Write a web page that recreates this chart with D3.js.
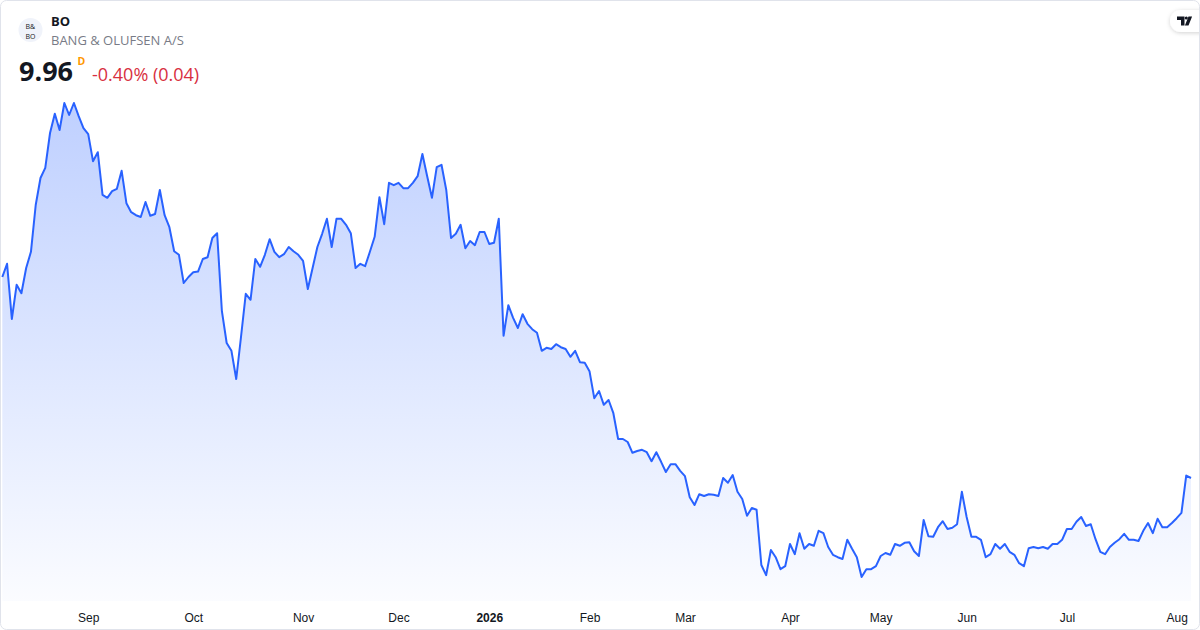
<!DOCTYPE html>
<html lang="en">
<head>
<meta charset="UTF-8">
<title>BO - Bang & Olufsen</title>
<script src="https://d3js.org/d3.v7.min.js"></script>
<style>
  html, body { margin: 0; padding: 0; background: #fff; }
  svg { display: block; font-family: "Open Sans", "Noto Sans", sans-serif; }
  .tick text { font-size: 12px; fill: #131722; }
</style>
</head>
<body>
<svg id="chart" width="1200" height="630"></svg>
<script>
// daily closes, Aug 2025 -> Aug 2026
var closes = [
  13.31, 13.53, 12.61, 13.18, 13.04, 13.46, 13.73, 14.51, 14.96, 15.13,
  15.71, 16.03, 15.76, 16.21, 16.01, 16.21, 15.99, 15.79, 15.69, 15.24,
  15.39, 14.68, 14.63, 14.74, 14.78, 15.08, 14.54, 14.39, 14.34, 14.31,
  14.56, 14.33, 14.36, 14.76, 14.34, 14.14, 13.74, 13.68, 13.21, 13.31,
  13.39, 13.40, 13.61, 13.64, 13.96, 14.04, 12.74, 12.21, 12.08, 11.61,
  12.31, 13.03, 12.93, 13.61, 13.48, 13.68, 13.94, 13.73, 13.64, 13.69,
  13.81, 13.74, 13.68, 13.58, 13.11, 13.46, 13.81, 14.03, 14.28, 13.81,
  14.28, 14.28, 14.18, 14.04, 13.46, 13.53, 13.49, 13.73, 13.98, 14.64,
  14.19, 14.88, 14.84, 14.88, 14.79, 14.79, 14.88, 14.99, 15.36, 14.99,
  14.63, 15.14, 15.18, 14.76, 13.96, 14.03, 14.18, 13.79, 13.91, 13.84,
  14.06, 14.06, 13.86, 13.88, 14.28, 12.33, 12.84, 12.63, 12.46, 12.69,
  12.53, 12.44, 12.38, 12.08, 12.13, 12.11, 12.19, 12.14, 12.11, 11.98,
  12.08, 11.89, 11.88, 11.74, 11.29, 11.41, 11.18, 11.26, 11.04, 10.61,
  10.61, 10.56, 10.38, 10.41, 10.43, 10.39, 10.24, 10.39, 10.23, 10.06,
  10.19, 10.19, 10.08, 9.99, 9.64, 9.51, 9.69, 9.66, 9.69, 9.68,
  9.66, 9.96, 9.88, 10.01, 9.73, 9.61, 9.33, 9.46, 9.43, 8.51,
  8.34, 8.76, 8.64, 8.44, 8.49, 8.86, 8.69, 9.04, 8.78, 8.86,
  8.83, 9.08, 9.04, 8.81, 8.68, 8.64, 8.61, 8.93, 8.78, 8.64,
  8.31, 8.44, 8.44, 8.49, 8.66, 8.71, 8.68, 8.86, 8.83, 8.88,
  8.89, 8.74, 8.66, 9.26, 8.99, 8.98, 9.14, 9.24, 9.11, 9.13,
  9.19, 9.73, 9.31, 8.98, 8.98, 8.93, 8.64, 8.69, 8.86, 8.78,
  8.86, 8.73, 8.68, 8.54, 8.49, 8.79, 8.81, 8.79, 8.81, 8.78,
  8.86, 8.86, 8.93, 9.11, 9.11, 9.23, 9.31, 9.16, 9.19, 8.94,
  8.73, 8.69, 8.81, 8.88, 8.94, 9.03, 8.93, 8.93, 8.91, 9.08,
  9.21, 9.04, 9.28, 9.14, 9.14, 9.21, 9.29, 9.38, 10.00, 9.96
];

// first trading day of each month (bar index) and its label
var tickIdx = [18, 40, 63, 83, 102, 123, 143, 165, 184, 202, 223, 246];
var tickLabels = ["Sep", "Oct", "Nov", "Dec", "2026", "Feb", "Mar", "Apr", "May", "Jun", "Jul", "Aug"];

var symbol = "BO";
var company = "BANG & OLUFSEN A/S";
var lastPrice = "9.96";
var changeText = "-0.40% (0.04)";

var svg = d3.select("#chart"),
    width = +svg.attr("width"),
    height = +svg.attr("height");

var plotBottom = 601;

var x = d3.scaleLinear()
  .domain([0, closes.length - 1])
  .range([2.3, 1191]);

var y = d3.scaleLinear()
  .domain([8, 16.5])
  .range([595.6, 85.6]);

var defs = svg.append("defs");

var grad = defs.append("linearGradient")
  .attr("id", "fillGrad")
  .attr("gradientUnits", "userSpaceOnUse")
  .attr("x1", 0).attr("x2", 0)
  .attr("y1", y(d3.max(closes))).attr("y2", plotBottom);
grad.append("stop").attr("offset", "0%").attr("stop-color", "#2962ff").attr("stop-opacity", 0.3);
grad.append("stop").attr("offset", "100%").attr("stop-color", "#2962ff").attr("stop-opacity", 0.02);

var shadow = defs.append("filter")
  .attr("id", "pillShadow")
  .attr("x", "-50%").attr("y", "-50%").attr("width", "200%").attr("height", "200%");
shadow.append("feDropShadow")
  .attr("dx", 0).attr("dy", 1).attr("stdDeviation", 2)
  .attr("flood-color", "#000").attr("flood-opacity", 0.18);

// area + line
var area = d3.area()
  .x(function(d, i) { return x(i); })
  .y0(plotBottom)
  .y1(function(d) { return y(d); });

var line = d3.line()
  .x(function(d, i) { return x(i); })
  .y(function(d) { return y(d); });

svg.append("path")
  .datum(closes)
  .attr("fill", "url(#fillGrad)")
  .attr("d", area);

svg.append("path")
  .datum(closes)
  .attr("fill", "none")
  .attr("stroke", "#2962ff")
  .attr("stroke-width", 2)
  .attr("stroke-linejoin", "round")
  .attr("d", line);

// month axis
var xAxis = d3.axisBottom(x)
  .tickValues(tickIdx)
  .tickSize(0)
  .tickPadding(0)
  .tickFormat(function(d, i) { return tickLabels[i]; });

var axisG = svg.append("g")
  .attr("transform", "translate(0,613)")
  .call(xAxis);
axisG.select(".domain").remove();
axisG.selectAll(".tick text")
  .attr("dy", "0.71em")
  .style("font-weight", function(d, i) { return tickLabels[i] === "2026" ? "bold" : null; });

// header
var logo = svg.append("g").attr("transform", "translate(30.5,30)");
logo.append("circle").attr("r", 12).attr("fill", "#f0f3fa");
// B&O mark, two small lines kept apart so their boxes don't touch
logo.append("text")
  .attr("x", -5).attr("y", -1.2)
  .style("font-size", "7px").style("fill", "#131722")
  .text("B&");
logo.append("text")
  .attr("x", -5).attr("y", 8.6)
  .style("font-size", "7px").style("fill", "#131722")
  .text("BO");

svg.append("text")
  .attr("x", 51).attr("y", 26)
  .style("font-size", "13px").style("font-weight", "bold").style("fill", "#131722")
  .text(symbol);

svg.append("text")
  .attr("x", 51).attr("y", 45)
  .style("font-size", "13px").style("fill", "#787b86")
  .text(company);

svg.append("text")
  .attr("x", 19).attr("y", 81)
  .style("font-size", "27px").style("font-weight", "bold").style("fill", "#131722")
  .text(lastPrice);

svg.append("text")
  .attr("x", 77.5).attr("y", 65)
  .style("font-size", "10.5px").style("font-weight", "bold").style("fill", "#ff9800")
  .text("D");

svg.append("text")
  .attr("x", 92).attr("y", 81)
  .style("font-size", "18px").style("fill", "#d8303f")
  .text(changeText);

// TradingView badge, top right
var badge = svg.append("g");
badge.append("rect")
  .attr("x", 1170).attr("y", 10).attr("width", 44).attr("height", 22).attr("rx", 11)
  .attr("fill", "#fff")
  .attr("filter", "url(#pillShadow)");
badge.append("path")
  .attr("fill", "#131722")
  .attr("d", "M1177,16.5h7.5v9h-3.5v-5.5h-4z M1188.5,25.5h-3.6l3.6,-9h3.6z");
badge.append("circle")
  .attr("cx", 1186.3).attr("cy", 18).attr("r", 1.6)
  .attr("fill", "#131722");

// outer frame
svg.append("rect")
  .attr("x", 0.5).attr("y", 0.5)
  .attr("width", width - 1).attr("height", height - 1)
  .attr("rx", 6)
  .attr("fill", "none")
  .attr("stroke", "#e0e3eb");
</script>
</body>
</html>
